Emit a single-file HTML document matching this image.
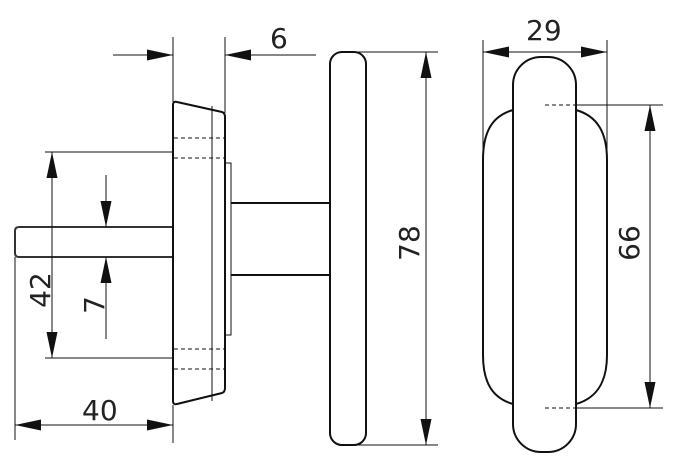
<!DOCTYPE html>
<html><head><style>body{margin:0;background:#fff}svg{display:block}text{font-family:"DejaVu Sans","Liberation Sans",sans-serif;font-size:28px;fill:#222}</style></head><body>
<svg width="673" height="463" viewBox="0 0 673 463" xmlns="http://www.w3.org/2000/svg">
<defs><marker id="a" viewBox="0 0 10 10" refX="10" refY="5" markerWidth="26" markerHeight="11" orient="auto-start-reverse" markerUnits="userSpaceOnUse" preserveAspectRatio="none"><path d="M0,0L10,5L0,10z" fill="#111"/></marker></defs>
<g stroke="#111" fill="none">
<path d="M173,227 H19 Q15,227 15,231 V253 Q15,257 19,257 H173" stroke-width="2" stroke="#333"/>
<path d="M173,105 Q173,101 177,102 L222,112 Q225,113 225,117 V388 Q225,392 222,393 L177,404 Q173,405 173,401 Z" stroke-width="2" fill="#fff"/>
<line x1="212" y1="106" x2="212" y2="401" stroke-width="1"/>
<g stroke-dasharray="4,3" stroke-width="1"><line x1="174" y1="138" x2="224" y2="138"/><line x1="174" y1="158" x2="224" y2="158"/><line x1="174" y1="349" x2="224" y2="349"/><line x1="174" y1="369" x2="224" y2="369"/></g>
<rect x="225" y="163" width="6" height="172" stroke-width="1"/>
<path d="M231,203 H330 M231,275 H330" stroke-width="2"/>
<rect x="330" y="52" width="36" height="393" rx="12" stroke-width="2" fill="#fff"/>
<path d="M513,110 C492,116 483,132 483,160 V355 C483,382 492,398 513,404 M576,110 C597,116 607,132 607,160 V355 C607,382 597,398 576,404" stroke-width="2"/>
<rect x="513" y="57" width="63" height="395" rx="28" stroke-width="2" fill="#fff"/>
<g stroke-width="1">
<line x1="45" y1="152" x2="173" y2="152"/><line x1="45" y1="358" x2="173" y2="358"/>
<line x1="52" y1="152" x2="52" y2="358" marker-start="url(#a)" marker-end="url(#a)"/>
<line x1="106" y1="175" x2="106" y2="227" marker-end="url(#a)"/>
<line x1="106" y1="339" x2="106" y2="257" marker-end="url(#a)"/>
<line x1="15" y1="257" x2="15" y2="440"/><line x1="173" y1="405" x2="173" y2="443"/>
<line x1="15" y1="425" x2="173" y2="425" marker-start="url(#a)" marker-end="url(#a)"/>
<line x1="173" y1="37" x2="173" y2="102"/><line x1="225" y1="37" x2="225" y2="113"/>
<line x1="113" y1="55" x2="173" y2="55" marker-end="url(#a)"/>
<line x1="316" y1="55" x2="225" y2="55" marker-end="url(#a)"/>
<line x1="356" y1="52" x2="438" y2="52"/><line x1="356" y1="445" x2="438" y2="445"/>
<line x1="426" y1="52" x2="426" y2="445" marker-start="url(#a)" marker-end="url(#a)"/>
<line x1="483" y1="40" x2="483" y2="150"/><line x1="607" y1="40" x2="607" y2="150"/>
<line x1="483" y1="52" x2="607" y2="52" marker-start="url(#a)" marker-end="url(#a)"/>
<line x1="545" y1="105" x2="576" y2="105" stroke-dasharray="4,3"/><line x1="545" y1="408" x2="576" y2="408" stroke-dasharray="4,3"/>
<line x1="576" y1="105" x2="663" y2="105"/><line x1="576" y1="408" x2="663" y2="408"/>
<line x1="650" y1="105" x2="650" y2="408" marker-start="url(#a)" marker-end="url(#a)"/>
</g></g>
<text x="270" y="48">6</text>
<text x="82" y="420">40</text>
<text x="526" y="40">29</text>
<text transform="translate(50,290) rotate(-90)" text-anchor="middle">42</text>
<text transform="translate(104,305) rotate(-90)" text-anchor="middle">7</text>
<text transform="translate(419,243) rotate(-90)" text-anchor="middle">78</text>
<text transform="translate(639,243) rotate(-90)" text-anchor="middle">66</text>
</svg></body></html>
